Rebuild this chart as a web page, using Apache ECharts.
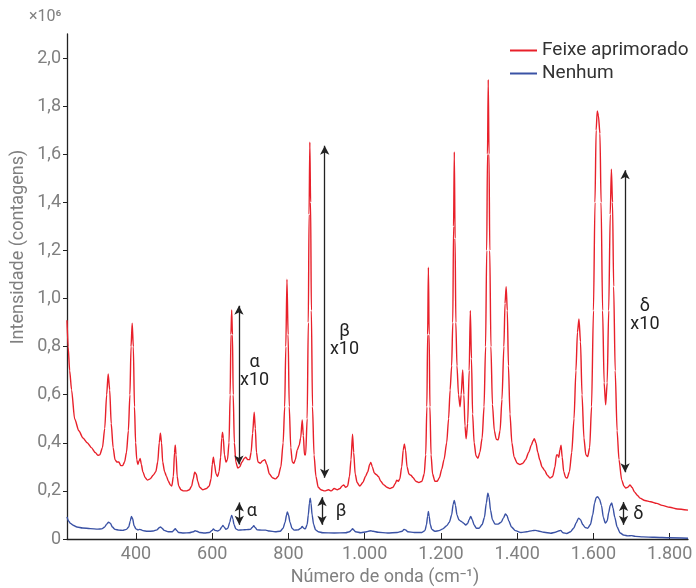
<!DOCTYPE html>
<html>
<head>
<meta charset="utf-8">
<script src="https://cdn.jsdelivr.net/npm/echarts@6/dist/echarts.min.js"></script>
<style>
  html, body { margin: 0; padding: 0; background: #fff; }
  #chart { width: 696px; height: 588px; }
</style>
</head>
<body>
<div id="chart"></div>
<script>
// Espectro com feixe aprimorado (x10^6 contagens)
var redWave = [219, 222, 226, 231, 239, 250, 261, 272, 283, 293, 300, 305, 312, 318, 323, 327, 331, 335, 340, 345, 350, 355, 360, 365, 370, 375, 380, 384, 387, 390, 393, 396, 399, 402, 405, 408, 411, 414, 418, 424, 430, 437, 445, 452, 457, 461, 464, 467, 470, 475, 480, 485, 490, 494, 498, 501, 503, 505, 508, 512, 518, 525, 532, 540, 546, 550, 554, 558, 562, 567, 575, 585, 592, 597, 600, 603, 606, 610, 614, 618, 622, 625, 627, 629, 632, 636, 640, 644, 647, 649, 651, 653, 655, 658, 662, 667, 672, 678, 684, 688, 693, 698, 702, 706, 710, 713, 716, 720, 726, 732, 738, 743, 750, 758, 766, 773, 780, 786, 790, 793, 796, 799, 802, 806, 810, 814, 818, 823, 828, 832, 836, 839, 842, 845, 849, 852, 854, 856, 858, 860, 863, 867, 872, 878, 885, 895, 905, 912, 920, 928, 935, 940, 945, 950, 955, 960, 964, 968, 971, 975, 980, 987, 995, 1002, 1008, 1013, 1016, 1020, 1025, 1030, 1036, 1042, 1050, 1058, 1066, 1074, 1080, 1084, 1088, 1092, 1097, 1101, 1104, 1107, 1111, 1116, 1121, 1127, 1134, 1142, 1150, 1156, 1160, 1163, 1165, 1167, 1169, 1171, 1174, 1178, 1184, 1190, 1196, 1202, 1208, 1215, 1220, 1224, 1228, 1231, 1233, 1235, 1237, 1239, 1242, 1246, 1250, 1253, 1257, 1260, 1263, 1266, 1270, 1274, 1277, 1280, 1283, 1287, 1292, 1297, 1302, 1308, 1313, 1317, 1320, 1322, 1324, 1326, 1328, 1331, 1335, 1340, 1345, 1350, 1355, 1360, 1365, 1368, 1371, 1374, 1377, 1381, 1386, 1392, 1400, 1407, 1415, 1422, 1430, 1437, 1442, 1445, 1449, 1454, 1459, 1465, 1472, 1479, 1486, 1493, 1499, 1503, 1506, 1509, 1512, 1515, 1518, 1522, 1527, 1531, 1537, 1543, 1549, 1554, 1558, 1562, 1566, 1570, 1575, 1580, 1585, 1590, 1595, 1600, 1604, 1607, 1610, 1613, 1617, 1620, 1624, 1628, 1632, 1636, 1640, 1644, 1647, 1650, 1653, 1657, 1662, 1667, 1674, 1680, 1685, 1690, 1696, 1701, 1708, 1715, 1722, 1735, 1750, 1766, 1780, 1800, 1820, 1848];
var redInt = [0.91, 0.80, 0.70, 0.62, 0.50, 0.45, 0.42, 0.40, 0.38, 0.36, 0.348, 0.35, 0.38, 0.46, 0.60, 0.686, 0.62, 0.48, 0.38, 0.33, 0.32, 0.32, 0.305, 0.305, 0.32, 0.36, 0.45, 0.60, 0.80, 0.897, 0.80, 0.55, 0.40, 0.33, 0.31, 0.325, 0.335, 0.31, 0.28, 0.255, 0.245, 0.25, 0.265, 0.28, 0.32, 0.40, 0.44, 0.40, 0.32, 0.28, 0.26, 0.24, 0.225, 0.22, 0.26, 0.36, 0.39, 0.35, 0.26, 0.22, 0.205, 0.20, 0.20, 0.205, 0.22, 0.25, 0.278, 0.27, 0.24, 0.215, 0.205, 0.21, 0.22, 0.25, 0.31, 0.34, 0.31, 0.27, 0.26, 0.28, 0.34, 0.42, 0.444, 0.42, 0.35, 0.32, 0.33, 0.40, 0.60, 0.85, 0.952, 0.85, 0.60, 0.40, 0.32, 0.295, 0.30, 0.32, 0.335, 0.34, 0.33, 0.33, 0.36, 0.44, 0.527, 0.46, 0.36, 0.32, 0.315, 0.325, 0.33, 0.31, 0.27, 0.255, 0.25, 0.26, 0.30, 0.40, 0.55, 0.80, 1.08, 0.85, 0.55, 0.38, 0.32, 0.315, 0.33, 0.37, 0.39, 0.42, 0.495, 0.43, 0.35, 0.35, 0.50, 0.90, 1.35, 1.65, 1.40, 0.95, 0.55, 0.35, 0.26, 0.215, 0.205, 0.20, 0.205, 0.20, 0.21, 0.205, 0.21, 0.22, 0.225, 0.215, 0.22, 0.26, 0.33, 0.436, 0.36, 0.27, 0.235, 0.22, 0.235, 0.26, 0.28, 0.31, 0.318, 0.30, 0.275, 0.268, 0.26, 0.24, 0.225, 0.215, 0.21, 0.215, 0.23, 0.245, 0.24, 0.25, 0.30, 0.37, 0.395, 0.37, 0.30, 0.27, 0.265, 0.255, 0.24, 0.235, 0.24, 0.27, 0.35, 0.55, 0.85, 1.13, 0.85, 0.55, 0.35, 0.27, 0.24, 0.24, 0.255, 0.29, 0.33, 0.40, 0.50, 0.62, 0.72, 0.90, 1.30, 1.61, 1.25, 0.90, 0.72, 0.60, 0.55, 0.60, 0.703, 0.60, 0.47, 0.417, 0.48, 0.70, 0.95, 0.75, 0.52, 0.40, 0.345, 0.336, 0.36, 0.42, 0.55, 0.80, 1.20, 1.60, 1.91, 1.60, 1.20, 0.80, 0.56, 0.45, 0.415, 0.412, 0.45, 0.58, 0.80, 0.98, 1.049, 0.95, 0.72, 0.52, 0.40, 0.34, 0.315, 0.31, 0.315, 0.33, 0.36, 0.39, 0.41, 0.417, 0.40, 0.36, 0.33, 0.30, 0.285, 0.265, 0.253, 0.26, 0.30, 0.35, 0.35, 0.34, 0.37, 0.39, 0.34, 0.28, 0.256, 0.253, 0.28, 0.36, 0.50, 0.70, 0.86, 0.915, 0.82, 0.60, 0.42, 0.35, 0.343, 0.38, 0.55, 0.95, 1.40, 1.70, 1.78, 1.76, 1.686, 1.40, 0.95, 0.65, 0.558, 0.65, 0.95, 1.35, 1.538, 1.40, 1.05, 0.70, 0.45, 0.33, 0.246, 0.22, 0.212, 0.215, 0.225, 0.215, 0.195, 0.182, 0.17, 0.16, 0.155, 0.148, 0.14, 0.132, 0.125, 0.12];

// Espectro sem feixe (Nenhum)
var blueWave = [219, 223, 228, 235, 245, 260, 280, 300, 310, 318, 323, 328, 333, 338, 345, 355, 365, 375, 381, 385, 388, 391, 395, 400, 405, 410, 418, 430, 445, 455, 461, 464, 468, 474, 485, 495, 500, 503, 507, 512, 525, 540, 550, 555, 560, 567, 580, 592, 600, 603, 607, 614, 620, 625, 628, 631, 636, 641, 646, 649, 651, 654, 657, 662, 668, 680, 690, 700, 705, 709, 713, 718, 730, 740, 750, 765, 778, 786, 791, 795, 797, 800, 804, 809, 815, 825, 832, 836, 840, 844, 849, 852, 855, 857, 859, 862, 866, 871, 878, 890, 920, 950, 960, 965, 968, 971, 976, 990, 1005, 1012, 1016, 1022, 1035, 1060, 1085, 1098, 1103, 1107, 1113, 1130, 1150, 1158, 1162, 1165, 1167, 1169, 1172, 1176, 1184, 1195, 1205, 1215, 1222, 1228, 1232, 1235, 1238, 1242, 1247, 1251, 1256, 1260, 1265, 1270, 1274, 1278, 1282, 1287, 1293, 1300, 1308, 1314, 1319, 1323, 1326, 1330, 1335, 1342, 1350, 1358, 1364, 1369, 1373, 1378, 1385, 1395, 1410, 1425, 1440, 1447, 1455, 1470, 1488, 1500, 1505, 1510, 1514, 1520, 1530, 1540, 1548, 1555, 1561, 1566, 1572, 1578, 1585, 1592, 1598, 1603, 1607, 1611, 1616, 1621, 1626, 1631, 1636, 1640, 1644, 1648, 1651, 1656, 1662, 1670, 1680, 1690, 1700, 1710, 1730, 1760, 1800, 1848];
var blueInt = [0.092, 0.075, 0.065, 0.057, 0.05, 0.046, 0.043, 0.041, 0.042, 0.05, 0.062, 0.07, 0.065, 0.05, 0.04, 0.037, 0.036, 0.04, 0.05, 0.075, 0.094, 0.085, 0.055, 0.042, 0.038, 0.04, 0.035, 0.032, 0.033, 0.038, 0.047, 0.05, 0.045, 0.036, 0.03, 0.03, 0.038, 0.043, 0.035, 0.027, 0.025, 0.026, 0.03, 0.034, 0.032, 0.027, 0.025, 0.027, 0.036, 0.042, 0.036, 0.033, 0.038, 0.05, 0.056, 0.05, 0.04, 0.045, 0.07, 0.09, 0.098, 0.085, 0.06, 0.042, 0.037, 0.038, 0.039, 0.04, 0.048, 0.055, 0.047, 0.038, 0.037, 0.037, 0.033, 0.03, 0.032, 0.045, 0.07, 0.1, 0.112, 0.1, 0.07, 0.045, 0.037, 0.038, 0.044, 0.052, 0.045, 0.042, 0.06, 0.1, 0.15, 0.17, 0.15, 0.1, 0.06, 0.038, 0.03, 0.026, 0.025, 0.026, 0.03, 0.037, 0.043, 0.038, 0.03, 0.026, 0.03, 0.033, 0.034, 0.032, 0.028, 0.025, 0.027, 0.032, 0.04, 0.038, 0.03, 0.027, 0.027, 0.035, 0.06, 0.095, 0.115, 0.095, 0.06, 0.04, 0.032, 0.035, 0.042, 0.055, 0.07, 0.1, 0.145, 0.16, 0.14, 0.1, 0.08, 0.075, 0.07, 0.065, 0.058, 0.065, 0.08, 0.094, 0.08, 0.058, 0.045, 0.045, 0.06, 0.09, 0.15, 0.19, 0.175, 0.12, 0.08, 0.062, 0.062, 0.07, 0.088, 0.104, 0.098, 0.075, 0.05, 0.035, 0.027, 0.03, 0.035, 0.036, 0.033, 0.028, 0.024, 0.028, 0.031, 0.034, 0.036, 0.026, 0.023, 0.03, 0.045, 0.068, 0.087, 0.08, 0.06, 0.048, 0.045, 0.06, 0.1, 0.15, 0.172, 0.176, 0.165, 0.14, 0.09, 0.066, 0.075, 0.11, 0.14, 0.15, 0.13, 0.09, 0.05, 0.025, 0.016, 0.013, 0.014, 0.011, 0.009, 0.007, 0.005, 0.003];

var xTicks = [400, 600, 800, 1000, 1200, 1400, 1600, 1800];
var yTicks = [0, 0.2, 0.4, 0.6, 0.8, 1.0, 1.2, 1.4, 1.6, 1.8, 2.0];

// setas: [x, y inicial, y final]
var bigArrows = [[670, 0.97, 0.31], [895, 1.635, 0.255], [1683, 1.533, 0.278]];
var smallArrows = [[671, 0.152, 0.059], [888, 0.174, 0.059], [1679, 0.154, 0.059]];
var bigLabels = [[711, 0.695, 'α\nx10'], [947, 0.826, 'β\nx10'], [1735, 0.93, 'δ\nx10']];
var smallLabels = [[704, 0.113, 'α'], [938, 0.113, 'β'], [1718, 0.1, 'δ']];

function zip(a, b) {
  return a.map(function (v, i) { return [v, b[i]]; });
}

var chartDom = document.getElementById('chart');
var myChart = echarts.init(chartDom);
var font = 'Roboto, "Noto Sans", sans-serif';
var gray = '#808080';
var ink = '#222';

function arrowLines(list) {
  return list.map(function (a) {
    return [{ coord: [a[0], a[1]] }, { coord: [a[0], a[2]] }];
  });
}
function textPoints(list) {
  return list.map(function (t) {
    return { coord: [t[0], t[1]], value: t[2] };
  });
}
var markLineStyle = {
  silent: true,
  animation: false,
  symbol: ['arrow', 'arrow'],
  symbolSize: [7, 9],
  label: { show: false },
  lineStyle: { color: ink, width: 1.3, type: 'solid' },
  emphasis: { disabled: true }
};
var markPointStyle = {
  silent: true,
  animation: false,
  symbol: 'circle',
  symbolSize: 0,
  label: {
    show: true,
    position: 'inside',
    formatter: '{c}',
    color: ink,
    fontFamily: font,
    fontSize: 18,
    lineHeight: 18,
    align: 'center'
  }
};

var option = {
  animation: false,
  textStyle: { fontFamily: font },
  grid: { left: 67, right: 8, top: 34, bottom: 49, outerBoundsMode: 'none', containLabel: false },
  legend: {
    orient: 'vertical',
    left: 505,
    top: 36,
    itemWidth: 27,
    itemHeight: 2,
    itemGap: 4,
    icon: 'rect',
    textStyle: { color: '#333', fontSize: 19, lineHeight: 19, fontFamily: font, padding: [0, 0, 0, 0] },
    data: ['Feixe aprimorado', 'Nenhum']
  },
  graphic: [
    {
      type: 'text',
      left: 29,
      top: 9,
      style: { text: '×10⁶', fill: gray, font: '16px ' + font }
    },
    {
      type: 'text',
      x: 18,
      y: 247,
      rotation: Math.PI / 2,
      style: {
        text: 'Intensidade (contagens)',
        fill: gray,
        font: '18px ' + font,
        align: 'center',
        verticalAlign: 'middle'
      }
    },
    {
      type: 'text',
      x: 385,
      y: 577,
      style: {
        text: 'Número de onda (cm⁻¹)',
        fill: gray,
        font: '18px ' + font,
        align: 'center',
        verticalAlign: 'middle'
      }
    }
  ],
  xAxis: {
    type: 'value',
    min: 219,
    max: 1848,
    axisLine: { show: true, lineStyle: { color: ink, width: 1.3 } },
    axisTick: { show: true, inside: true, length: 6, customValues: xTicks, lineStyle: { color: ink } },
    axisLabel: {
      customValues: xTicks,
      color: gray,
      fontSize: 18,
      margin: 6,
      formatter: function (v) {
        return v >= 1000 ? Math.floor(v / 1000) + '.' + String(v % 1000).padStart(3, '0') : String(v);
      }
    },
    splitLine: { show: false }
  },
  yAxis: {
    type: 'value',
    min: 0,
    max: 2.1,
    axisLine: { show: true, lineStyle: { color: ink, width: 1.3 } },
    axisTick: { show: true, inside: false, length: 4, customValues: yTicks, lineStyle: { color: ink } },
    axisLabel: {
      customValues: yTicks,
      color: gray,
      fontSize: 18,
      margin: 6,
      formatter: function (v) {
        return v === 0 ? '0' : v.toFixed(1).replace('.', ',');
      }
    },
    splitLine: { show: false }
  },
  series: [
    {
      name: 'Feixe aprimorado',
      type: 'line',
      data: zip(redWave, redInt),
      showSymbol: false,
      symbol: 'none',
      smooth: 0.25,
      smoothMonotone: 'x',
      lineStyle: { color: '#e8202a', width: 1.4 },
      itemStyle: { color: '#e8202a' },
      markLine: Object.assign({ data: arrowLines(bigArrows) }, markLineStyle),
      markPoint: Object.assign({ data: textPoints(bigLabels) }, markPointStyle),
      z: 3
    },
    {
      name: 'Nenhum',
      type: 'line',
      data: zip(blueWave, blueInt),
      showSymbol: false,
      symbol: 'none',
      smooth: 0.25,
      smoothMonotone: 'x',
      lineStyle: { color: '#3a52a5', width: 1.4 },
      itemStyle: { color: '#3a52a5' },
      markLine: Object.assign({ data: arrowLines(smallArrows) }, markLineStyle),
      markPoint: Object.assign({ data: textPoints(smallLabels) }, markPointStyle),
      z: 2
    }
  ]
};

option && myChart.setOption(option);
</script>
</body>
</html>
